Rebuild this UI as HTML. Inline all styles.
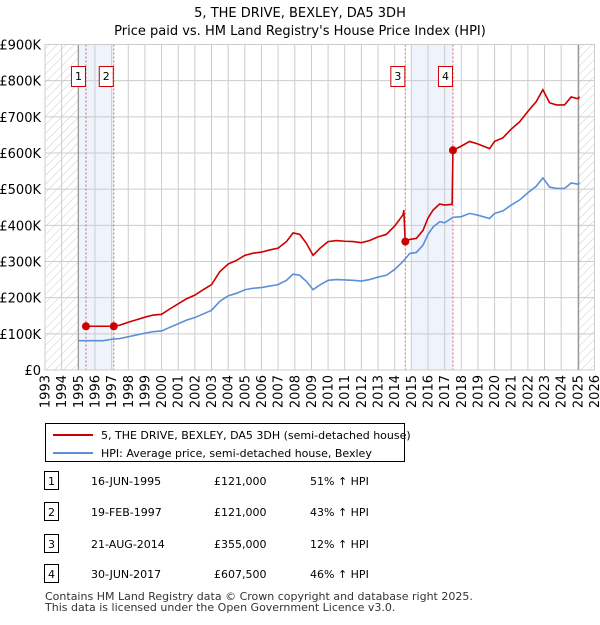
<!DOCTYPE html>
<html><head><meta charset="utf-8"><style>
body{margin:0;background:#fff;font-family:"Liberation Sans","DejaVu Sans",sans-serif;}
svg text{font-family:"DejaVu Sans","Liberation Sans",sans-serif;}
</style></head><body>
<svg id="c" width="600" height="620" viewBox="0 0 600 620" xmlns="http://www.w3.org/2000/svg">
<defs><pattern id="h" width="6" height="6" patternUnits="userSpaceOnUse" patternTransform="rotate(45)"><line x1="0" y1="0" x2="0" y2="6" stroke="#ccc" stroke-width="1"/></pattern></defs>
<text x="300" y="17" text-anchor="middle" font-size="13">5, THE DRIVE, BEXLEY, DA5 3DH</text>
<text x="300" y="35" text-anchor="middle" font-size="13">Price paid vs. HM Land Registry's House Price Index (HPI)</text>
<g id="plot"></g>
<g>
<rect x="45.5" y="423.5" width="359" height="38" fill="#fff" stroke="#000"/>
<line x1="53" y1="435" x2="93" y2="435" stroke="#cc0000" stroke-width="2"/>
<text x="101" y="439" font-size="11">5, THE DRIVE, BEXLEY, DA5 3DH (semi-detached house)</text>
<line x1="53" y1="453" x2="93" y2="453" stroke="#5b8fd6" stroke-width="2"/>
<text x="101" y="457" font-size="11">HPI: Average price, semi-detached house, Bexley</text>
</g>
<g id="tbl" font-size="11"></g>
<text x="45" y="600" font-size="11" fill="#333">Contains HM Land Registry data © Crown copyright and database right 2025.</text>
<text x="45" y="611" font-size="11" fill="#333">This data is licensed under the Open Government Licence v3.0.</text>
</svg>
<script>
const hpiYears=[1995.0,1995.5,1996,1996.5,1997,1997.5,1998,1998.5,1999,1999.5,2000,2000.5,2001,2001.5,2002,2002.5,2003,2003.5,2004,2004.5,2005,2005.5,2006,2006.5,2007,2007.5,2007.9,2008.3,2008.7,2009.1,2009.5,2010,2010.5,2011,2011.5,2012,2012.5,2013,2013.5,2014,2014.5,2014.9,2015.3,2015.7,2016,2016.3,2016.7,2017,2017.5,2018,2018.5,2019,2019.7,2020,2020.5,2021,2021.5,2022,2022.5,2022.9,2023.3,2023.7,2024.2,2024.6,2025.0,2025.1];
const hpiValues=[81,81,81,81,85,87,92,97,102,106,108,118,128,138,145,155,165,190,205,212,222,226,228,232,236,248,265,262,245,222,235,248,250,249,248,246,250,257,262,278,300,322,325,345,375,395,410,407,422,424,433,428,419,433,440,456,470,490,508,531,506,502,502,517,514,518];
const propYears=[1995.3,1995.45,1996,1996.5,1997.13,1997.5,1998,1998.5,1999,1999.5,2000,2000.5,2001,2001.5,2002,2002.5,2003,2003.5,2004,2004.5,2005,2005.5,2006,2006.5,2007,2007.5,2007.9,2008.3,2008.7,2009.1,2009.5,2010,2010.5,2011,2011.5,2012,2012.5,2013,2013.5,2014,2014.5,2014.55,2014.63,2014.9,2015.3,2015.7,2016,2016.3,2016.7,2017,2017.45,2017.5,2018,2018.5,2019,2019.7,2020,2020.5,2021,2021.5,2022,2022.5,2022.9,2023.3,2023.7,2024.2,2024.6,2025.0,2025.1];
const propValues=[121,121,121,121,121,124,132,139,146,152,154,169,183,197,207,222,236,272,293,303,317,323,326,332,337,355,379,375,350,317,336,355,358,356,355,352,358,368,375,398,429,442,355,361,364,386,420,442,459,456,458,607.5,619,632,625,612,632,642,666,686,715,742,775,739,733,733,755,750,756];
const saleYears=[1995.46,1997.13,2014.64,2017.5];
const saleValues=[121,121,355,607.5];
const saleLabels=["1","2","3","4"];
const saleDates=["16-JUN-1995","19-FEB-1997","21-AUG-2014","30-JUN-2017"];
const salePrices=["£121,000","£121,000","£355,000","£607,500"];
const saleHpi=["51% ↑ HPI","43% ↑ HPI","12% ↑ HPI","46% ↑ HPI"];
const yTicks=[0,100,200,300,400,500,600,700,800,900];
const yTickLabels=["£0","£100K","£200K","£300K","£400K","£500K","£600K","£700K","£800K","£900K"];
const xTicks=[1993,1994,1995,1996,1997,1998,1999,2000,2001,2002,2003,2004,2005,2006,2007,2008,2009,2010,2011,2012,2013,2014,2015,2016,2017,2018,2019,2020,2021,2022,2023,2024,2025,2026];

const L=45,R=594.5,T=44.5,B=370;
const x=v=>L+(v-1993)/33*(R-L);
const y=v=>B-v/900*(B-T);
const NS="http://www.w3.org/2000/svg";
const plot=document.getElementById('plot');
function mk(tag,attrs,parent){const e=document.createElementNS(NS,tag);for(const k in attrs)e.setAttribute(k,attrs[k]);(parent||plot).appendChild(e);return e;}
let e;
e=mk('rect',{x:L,y:T,width:x(1995)-L,height:B-T,fill:'url(#h)'});


e=mk('rect',{x:x(2025.05),y:T,width:R-x(2025.05),height:B-T,fill:'url(#h)'});


e=mk('rect',{x:x(1995),y:T,width:x(1997.13)-x(1995),height:B-T,fill:'#eef3fc'});


e=mk('rect',{x:x(2015),y:T,width:x(2017.5)-x(2015),height:B-T,fill:'#eef3fc'});


xTicks.forEach((t,i)=>{
 e=mk('line',{x1:x(t),y1:T,x2:x(t),y2:B,stroke:'#ccc','stroke-width':1});
 
 
 e=mk('text',{x:0,y:0,'font-size':13,'text-anchor':'end',transform:`translate(${x(t)+4.5},375) rotate(-90)`});
 e.textContent=t;
 
 
});
yTicks.forEach((t,i)=>{
 e=mk('line',{x1:L,y1:y(t),x2:R,y2:y(t),stroke:'#ccc','stroke-width':1});
 
 
 e=mk('text',{x:41,y:y(t)+5,'font-size':13,'text-anchor':'end'});
 e.textContent=yTickLabels[i];
 
 
});
e=mk('line',{x1:x(1995),y1:T,x2:x(1995),y2:B,stroke:'#888'});


e=mk('line',{x1:x(2025.05),y1:T,x2:x(2025.05),y2:B,stroke:'#888'});


saleYears.forEach((s,i)=>{
 e=mk('line',{x1:x(s),y1:T,x2:x(s),y2:B,stroke:'#e06060','stroke-dasharray':'2,2'});
 
 
});
e=mk('polyline',{points:hpiYears.map((t,i)=>x(t)+','+y(hpiValues[i])).join(' '),fill:'none',stroke:'#5b8fd6','stroke-width':1.6});


e=mk('polyline',{points:propYears.map((t,i)=>x(t)+','+y(propValues[i])).join(' '),fill:'none',stroke:'#cc0000','stroke-width':1.6});


saleYears.forEach((s,i)=>{
 e=mk('circle',{cx:x(s),cy:y(saleValues[i]),r:4,fill:'#cc0000'});
 
 
 e=mk('rect',{x:x(s)-14.5,y:66.5,width:14,height:20,fill:'#fff',stroke:'#cc0000'});
 
 
 e=mk('text',{x:x(s)-7.5,y:80,'font-size':11,'text-anchor':'middle'});
 e.textContent=saleLabels[i];
 
 
});
e=mk('rect',{x:L,y:T,width:R-L,height:B-T,fill:'none',stroke:'#ccc'});


const tbl=document.getElementById('tbl');
const rowY=[482,513,545,575];
saleLabels.forEach((l,i)=>{
 const yy=rowY[i];
 e=mk('rect',{x:44.5,y:yy-10.5,width:14,height:18,fill:'#fff',stroke:'#000'},tbl);
 
 
 e=mk('text',{x:51.5,y:yy+3,'text-anchor':'middle'},tbl);e.textContent=l;
 
 
 e=mk('text',{x:91,y:yy+3},tbl);e.textContent=saleDates[i];
 
 
 e=mk('text',{x:214,y:yy+3},tbl);e.textContent=salePrices[i];
 
 
 e=mk('text',{x:310,y:yy+3},tbl);e.textContent=saleHpi[i];
 
 
});
</script>
</body></html>
